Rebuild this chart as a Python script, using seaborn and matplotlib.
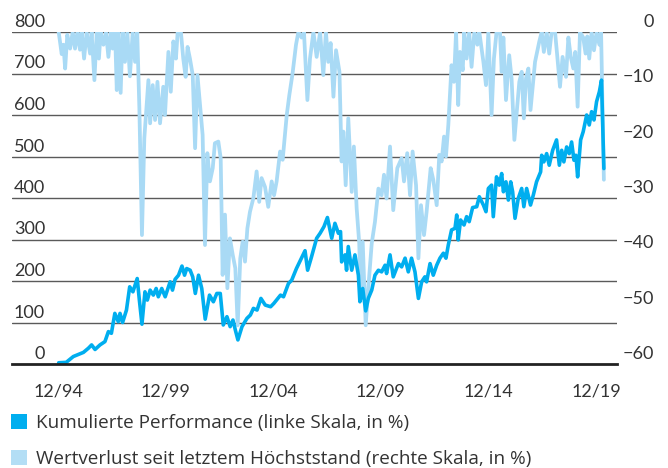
import numpy as np
import pandas as pd
import matplotlib
matplotlib.use("Agg")
import matplotlib.pyplot as plt
from matplotlib.patches import Patch
import seaborn as sns

# ---------------- data ----------------
perf_years = [1994.95, 1995.3, 1995.63, 1996.1, 1996.33, 1996.48, 1996.64, 1996.87, 1997.1, 1997.26,
              1997.4, 1997.56, 1997.72, 1997.8, 1997.92, 1998.1, 1998.25, 1998.4, 1998.6, 1998.7,
              1998.82, 1998.96, 1999.07, 1999.2, 1999.35, 1999.48, 1999.58, 1999.74, 1999.9, 2000.13,
              2000.24, 2000.36, 2000.52, 2000.68, 2000.8, 2000.9, 2001.06, 2001.18, 2001.3, 2001.45,
              2001.6, 2001.76, 2001.96, 2002.14, 2002.3, 2002.46, 2002.6, 2002.77, 2002.92, 2003.05,
              2003.16, 2003.28, 2003.47, 2003.7, 2003.86, 2004.0, 2004.17, 2004.35, 2004.55, 2004.8,
              2004.95, 2005.26, 2005.4, 2005.63, 2005.78, 2006.0, 2006.4, 2006.52, 2006.7, 2006.94,
              2007.1, 2007.28, 2007.44, 2007.64, 2007.79, 2007.95, 2008.05, 2008.1, 2008.26, 2008.33,
              2008.41, 2008.57, 2008.72, 2008.88, 2008.95, 2009.08, 2009.22, 2009.34, 2009.5, 2009.65,
              2009.81, 2009.96, 2010.12, 2010.19, 2010.35, 2010.5, 2010.74, 2010.89, 2011.05, 2011.2,
              2011.35, 2011.51, 2011.67, 2011.82, 2011.97, 2012.05, 2012.21, 2012.36, 2012.52, 2012.67,
              2012.83, 2012.95, 2013.06, 2013.21, 2013.37, 2013.45, 2013.52, 2013.63, 2013.79, 2013.91,
              2014.03, 2014.19, 2014.38, 2014.5, 2014.69, 2014.81, 2014.92, 2015.07, 2015.15, 2015.3,
              2015.43, 2015.54, 2015.62, 2015.74, 2015.85, 2015.96, 2016.05, 2016.16, 2016.31, 2016.47,
              2016.57, 2016.7, 2016.88, 2017.01, 2017.16, 2017.35, 2017.4, 2017.5, 2017.63, 2017.75,
              2017.91, 2018.09, 2018.22, 2018.33, 2018.43, 2018.56, 2018.68, 2018.79, 2018.9, 2018.99,
              2019.07, 2019.21, 2019.33, 2019.49, 2019.61, 2019.72, 2019.83, 2019.95, 2020.08, 2020.18,
              2020.29]
perf_values = [3, 4, 18, 28, 38, 46, 35, 46, 54, 78,
               74, 122, 102, 122, 100, 130, 186, 174, 206, 154,
               96, 174, 154, 178, 166, 182, 162, 182, 162, 198,
               178, 204, 214, 236, 214, 230, 226, 210, 170, 214,
               182, 108, 166, 150, 170, 170, 94, 114, 90, 106,
               82, 58, 90, 110, 118, 134, 130, 158, 142, 138,
               146, 166, 162, 194, 202, 230, 273, 226, 258, 303,
               315, 331, 353, 303, 339, 315, 319, 246, 263, 226,
               283, 226, 263, 214, 150, 182, 128, 158, 178, 214,
               226, 222, 238, 218, 263, 210, 242, 234, 255, 222,
               255, 222, 158, 198, 210, 198, 242, 214, 238, 255,
               267, 255, 287, 323, 327, 359, 299, 347, 335, 355,
               343, 377, 379, 403, 383, 367, 423, 431, 355, 451,
               431, 459, 415, 439, 395, 439, 415, 351, 399, 423,
               379, 423, 383, 407, 439, 463, 503, 487, 507, 479,
               515, 540, 479, 515, 487, 523, 507, 535, 491, 503,
               451, 540, 560, 600, 576, 608, 588, 632, 656, 684,
               471]

dd_years = [1994.95, 1995.09, 1995.17, 1995.25, 1995.35, 1995.48, 1995.6, 1995.71, 1995.82, 1995.94,
            1996.02, 1996.13, 1996.25, 1996.41, 1996.48, 1996.61, 1996.72, 1996.82, 1996.9, 1997.03,
            1997.15, 1997.26, 1997.37, 1997.46, 1997.57, 1997.65, 1997.72, 1997.83, 1997.92, 1998.03,
            1998.14, 1998.26, 1998.39, 1998.5, 1998.6, 1998.7, 1998.82, 1998.93, 1999.04, 1999.12,
            1999.2, 1999.32, 1999.43, 1999.54, 1999.66, 1999.81, 1999.89, 2000.05, 2000.16, 2000.28,
            2000.4, 2000.48, 2000.63, 2000.74, 2000.85, 2000.94, 2001.05, 2001.18, 2001.29, 2001.4,
            2001.52, 2001.64, 2001.75, 2001.86, 2001.98, 2002.11, 2002.21, 2002.37, 2002.48, 2002.57,
            2002.68, 2002.79, 2002.91, 2003.04, 2003.16, 2003.27, 2003.39, 2003.5, 2003.61, 2003.72,
            2003.84, 2004.0, 2004.15, 2004.27, 2004.38, 2004.54, 2004.69, 2004.85, 2004.96, 2005.08,
            2005.24, 2005.36, 2005.55, 2005.67, 2005.82, 2005.98, 2006.09, 2006.24, 2006.35, 2006.51,
            2006.63, 2006.79, 2006.94, 2007.1, 2007.25, 2007.37, 2007.48, 2007.59, 2007.72, 2007.84,
            2008.0, 2008.1, 2008.18, 2008.29, 2008.41, 2008.57, 2008.67, 2008.8, 2008.92, 2008.98,
            2009.08, 2009.22, 2009.34, 2009.5, 2009.65, 2009.81, 2009.96, 2010.07, 2010.19, 2010.35,
            2010.5, 2010.69, 2010.89, 2011.0, 2011.15, 2011.28, 2011.4, 2011.56, 2011.67, 2011.79,
            2011.93, 2012.05, 2012.24, 2012.36, 2012.52, 2012.64, 2012.75, 2012.86, 2012.95, 2013.06,
            2013.21, 2013.32, 2013.42, 2013.52, 2013.6, 2013.73, 2013.8, 2013.91, 2014.03, 2014.14,
            2014.27, 2014.41, 2014.5, 2014.69, 2014.81, 2014.92, 2015.07, 2015.18, 2015.3, 2015.46,
            2015.54, 2015.62, 2015.74, 2015.89, 2016.0, 2016.13, 2016.23, 2016.36, 2016.47, 2016.57,
            2016.67, 2016.78, 2016.88, 2017.09, 2017.29, 2017.4, 2017.5, 2017.63, 2017.75, 2017.86,
            2018.02, 2018.12, 2018.25, 2018.37, 2018.53, 2018.64, 2018.75, 2018.87, 2018.96, 2019.07,
            2019.18, 2019.33, 2019.44, 2019.52, 2019.61, 2019.72, 2019.83, 2019.95, 2020.08, 2020.16,
            2020.29]
dd_values = [0, -4, -2.3, -6.6, -0.5, -3, 0, -3, 0, -3.2,
             0, -4.8, 0, -3.9, 0, -8.7, 0, -4.8, 0, -2.3,
             0, -4.5, 0, -3, 0, -10.5, 0, -11, 0, -5.4,
             0, -8, 0, -5.4, 0, -13.8, -36.7, -19.2, -13.2, -8.7,
             -16.5, -9.6, -15.9, -9, -16.5, -9.9, -15, -3.6, -10.8, -1.7,
             -4.8, 0, 0, -4.8, -8.1, -2.7, -4.8, -7.8, -21, -7.8,
             -13.2, -18.6, -38.5, -21.9, -27, -24.6, -20.1, -19.8, -22.8, -43.9,
             -33, -46.3, -37.3, -40.3, -42.7, -53, -40.9, -37.9, -41.5, -35.5,
             -32.5, -30, -25.2, -30.7, -26.4, -28, -31.6, -27, -29.5, -27,
             -21.6, -23.1, -15, -11.4, -7.5, -2.3, 0, -1, 0, -12.3,
             -4.8, 0, -4.5, 0, -7.8, 0, -5.4, -2, -11.7, -3.3,
             -7.2, -23.4, -18, -27.7, -15.6, -28.9, -20.7, -31.9, -38.2, -46.9,
             -37.9, -53, -46.3, -38.2, -34.3, -28.3, -29.5, -25.8, -30.1, -20.7,
             -32.2, -24.6, -22.8, -27, -21.9, -29.5, -21.6, -27.7, -40.9, -31.3,
             -36.7, -32.5, -24.6, -26.7, -31.3, -22.2, -23.4, -18.9, -22.5, -16.8,
             -6, -9, 0, -13.2, -3.6, -6.9, 0, -4.8, 0, -6.3,
             0, -2.3, 0, -5.4, -9.6, 0, -15, -4.8, 0, 0,
             -7.2, -1, -12.3, -4.2, -8.4, -19.5, -15, -9, -7.2, -15.6,
             -8.4, -6.6, -14.1, -5.4, -1.7, 0, -3.6, 0, -3.9, 0,
             0, -4.2, -9.9, -4.5, -8.1, -1, -4.5, -6.6, -3.6, -13.5,
             0, -1, -3.9, -0.8, -4.8, 0, -3.3, 0, -2.3, 0,
             -26.7]

x_tick_years = [1994.92, 1999.92, 2004.92, 2009.92, 2014.92, 2019.92]
x_tick_labels = ["12/94", "12/99", "12/04", "12/09", "12/14", "12/19"]
left_ticks = [0, 100, 200, 300, 400, 500, 600, 700, 800]
right_ticks = [0, -10, -20, -30, -40, -50, -60]
legend_labels = ["Kumulierte Performance (linke Skala, in %)",
                 "Wertverlust seit letztem Höchststand (rechte Skala, in %)"]

# ---------------- style ----------------
sns.set_style("white")
plt.rcParams["font.family"] = ["Lato", "DejaVu Sans"]
TXT = "#333333"
DARK = "#00AEEF"
LIGHT = "#A9DAF5"

W, H = 668, 468
fig = plt.figure(figsize=(W / 100, H / 100), dpi=100)
L, R, T, B = 12, 617, 32, 364
ax = fig.add_axes([L / W, 1 - B / H, (R - L) / W, (B - T) / H])
ax2 = ax.twinx()

perf_df = pd.DataFrame({"year": perf_years, "value": perf_values})
dd_df = pd.DataFrame({"year": dd_years, "value": dd_values})

sns.lineplot(data=dd_df, x="year", y="value", ax=ax2, color=LIGHT, lw=2.7,
             estimator=None, sort=False, legend=False)
sns.lineplot(data=perf_df, x="year", y="value", ax=ax, color=DARK, lw=2.6,
             estimator=None, sort=False, legend=False)

# dark (left) series above the light (right) one
ax.set_zorder(ax2.get_zorder() + 1)
ax.patch.set_visible(False)

ax.set_xlim(1992.78, 2020.9)
ax.set_ylim(0, 800)
ax2.set_ylim(-60, 0)

# gridlines (drawn on ax2, below both lines)
ax2.set_yticks(np.linspace(-60, 0, 9)[1:])
ax2.set_yticklabels([])
ax2.grid(True, axis="y", color="#5a5a5a", lw=1.0)
ax2.set_axisbelow(True)
ax2.tick_params(axis="y", length=0)
ax.set_yticks([])
ax.grid(False)

for a in (ax, ax2):
    for s in ("top", "left", "right", "bottom"):
        a.spines[s].set_visible(False)
ax.spines["bottom"].set_visible(True)
ax.spines["bottom"].set_color("#222222")
ax.spines["bottom"].set_linewidth(2.0)

ax.set_xticks(x_tick_years)
ax.set_xticklabels(x_tick_labels, fontsize=13, color=TXT)
ax.tick_params(axis="x", length=0, pad=14)
ax.set_xlabel("")
ax.set_ylabel("")
ax2.set_ylabel("")

# left value labels (inside the plot, above their gridline)
for v in left_ticks:
    ax.annotate(str(v), xy=(0, v), xycoords=ax.get_yaxis_transform(),
                xytext=(33, 5), textcoords="offset pixels",
                ha="right", va="baseline", fontsize=13, color=TXT)
# right value labels
for v in right_ticks:
    lab = "0" if v == 0 else "\u2212" + str(abs(v))
    ax2.annotate(lab, xy=(1, v), xycoords=ax2.get_yaxis_transform(),
                 xytext=(37, 5), textcoords="offset pixels",
                 ha="right", va="baseline", fontsize=13, color=TXT)

handles = [Patch(facecolor=DARK, edgecolor="none"), Patch(facecolor="#B3DEF5", edgecolor="none")]
fig.legend(handles, legend_labels, loc="upper left",
           bbox_to_anchor=(11 / W, 1 - 414 / H), frameon=False,
           prop={"family": ["Open Sans", "DejaVu Sans"], "size": 13.6},
           labelcolor=TXT, handlelength=0.84, handleheight=0.8,
           handletextpad=0.5, labelspacing=0.95, borderpad=0, borderaxespad=0)

fig.savefig("out.png", dpi=100)
